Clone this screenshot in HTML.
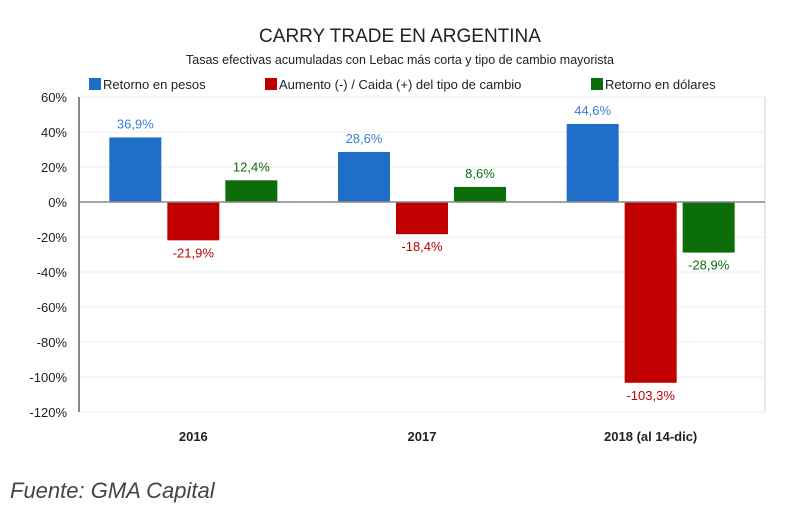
<!DOCTYPE html>
<html><head><meta charset="utf-8"><style>
body{margin:0;background:#fff;width:800px;height:515px;overflow:hidden;font-family:"Liberation Sans",sans-serif}
</style></head><body>
<svg width="800" height="515" xmlns="http://www.w3.org/2000/svg" id="chart">
<text x="400" y="42" text-anchor="middle" font-size="19" fill="#222">CARRY TRADE EN ARGENTINA</text>
<text x="400" y="64" text-anchor="middle" font-size="12.5" fill="#222">Tasas efectivas acumuladas con Lebac más corta y tipo de cambio mayorista</text>
<g font-size="13" fill="#222">
<rect x="89" y="78" width="12" height="12" fill="#1f6fc8"/>
<text x="103" y="89">Retorno en pesos</text>
<rect x="265" y="78" width="12" height="12" fill="#c00000"/>
<text x="279" y="89">Aumento (-) / Caida (+) del tipo de cambio</text>
<rect x="591" y="78" width="12" height="12" fill="#0b6e0b"/>
<text x="605" y="89">Retorno en dólares</text>
</g>
<g id="plot"></g>
<text x="10" y="498" font-size="22" font-style="italic" fill="#444">Fuente: GMA Capital</text>
</svg>
<script>
const categories=["2016","2017","2018 (al 14-dic)"];
const pesos=[36.9,28.6,44.6];
const cambio=[-21.9,-18.4,-103.3];
const dolares=[12.4,8.6,-28.9];
const yTicks=[60,40,20,0,-20,-40,-60,-80,-100,-120];
const series=[{name:"pesos",v:pesos,c:"#1f6fc8",t:"#3a7fd0"},{name:"cambio",v:cambio,c:"#c00000",t:"#c00000"},{name:"dolares",v:dolares,c:"#0b6e0b",t:"#0b6e0b"}];
const L=79,R=765,T=97,B=412,ymax=60,ymin=-120;
const y=v=>T+(ymax-v)/(ymax-ymin)*(B-T);
const gw=(R-L)/categories.length;
const bw=52,gap=6;
const g=document.getElementById('plot');
const NS="http://www.w3.org/2000/svg";
function mk(t,a){const e=document.createElementNS(NS,t);for(const k in a)e.setAttribute(k,a[k]);g.appendChild(e);return e;}
const fr=mk('rect',{x:L,y:T,width:R-L,height:B-T,fill:'none',stroke:'#d0d0d0'});


yTicks.forEach(v=>{
 if(v!==0){const gl=mk('line',{x1:L,x2:R,y1:y(v),y2:y(v),stroke:'#eeeeee'});
 
 }
 const t=mk('text',{x:L-12,y:y(v)+5,'text-anchor':'end','font-size':13,fill:'#222'});t.textContent=v+'%';
 
 
});
categories.forEach((c,i)=>{
 const cx=L+gw*(i+0.5);
 const t=mk('text',{x:cx,y:441,'text-anchor':'middle','font-size':13,'font-weight':'bold',fill:'#222'});t.textContent=c;
 
 
 series.forEach((s,j)=>{
  const v=s.v[i];const x=cx+(j-1)*(bw+gap)-bw/2;
  const y0=y(Math.max(v,0)),h=Math.abs(y(v)-y(0));
  const r=mk('rect',{x:x,y:y0,width:bw,height:h,fill:s.c});
  
  
  const ly=v>=0?y(v)-9:y(v)+17;
  const lt=mk('text',{x:x+bw/2,y:ly,'text-anchor':'middle','font-size':13,fill:s.t});
  lt.textContent=v.toFixed(1).replace('.',',')+'%';
  
  
 });
});
const z=mk('line',{x1:L,x2:R,y1:y(0),y2:y(0),stroke:'#888','stroke-width':1.5});


const ax=mk('line',{x1:L,x2:L,y1:T,y2:B,stroke:'#888','stroke-width':2});


</script>
</body></html>
